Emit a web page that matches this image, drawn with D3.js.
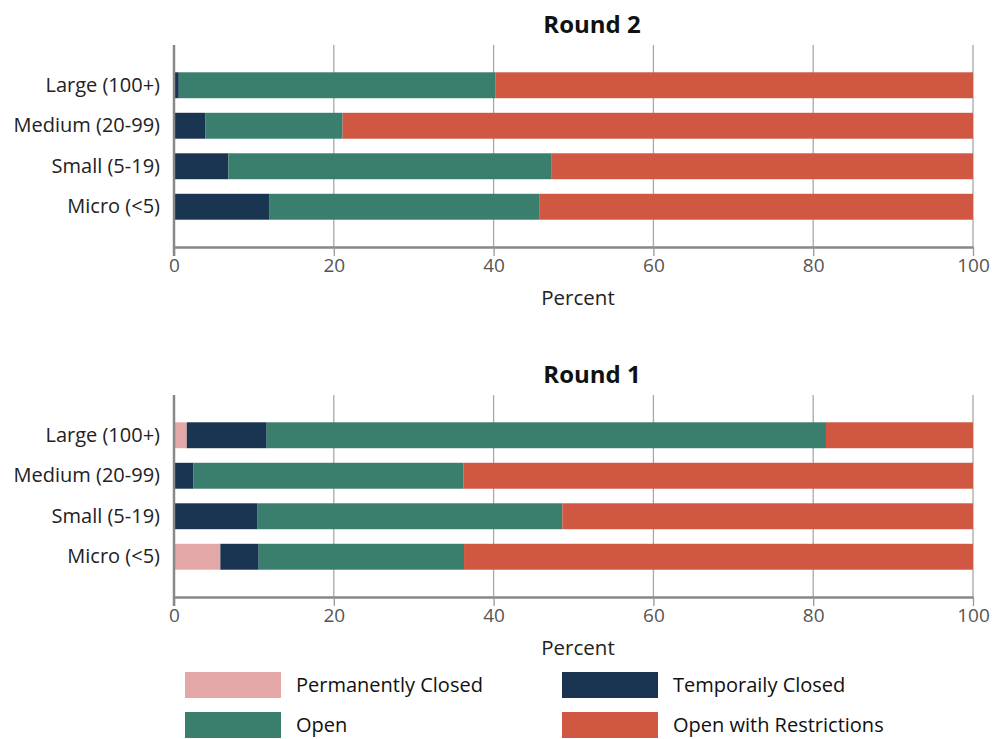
<!DOCTYPE html>
<html><head><meta charset="utf-8">
<script src="https://cdn.jsdelivr.net/npm/d3@7"></script>
<style>body{margin:0;background:#fff}svg{display:block}text{font-family:"Open Sans",sans-serif}</style>
</head><body><svg id="c" width="992" height="739"></svg>
<script>
const categories = ["Large (100+)", "Medium (20-99)", "Small (5-19)", "Micro (<5)"];
const seriesNames = ["Permanently Closed", "Temporaily Closed", "Open", "Open with Restrictions"];
const seriesColors = ["#e3a7a8", "#1a3552", "#3a7e6e", "#d05842"];
// Round 2 values (percent)
const r2Perm = [0, 0, 0, 0];
const r2Temp = [0.6, 3.9, 6.8, 11.9];
const r2Open = [39.6, 17.2, 40.4, 33.8];
const r2Restr = [59.8, 78.9, 52.8, 54.3];
// Round 1 values (percent)
const r1Perm = [1.6, 0, 0, 5.8];
const r1Temp = [10.0, 2.4, 10.4, 4.8];
const r1Open = [70.0, 33.8, 38.2, 25.7];
const r1Restr = [18.4, 63.8, 51.4, 63.7];
const xTicks = [0, 20, 40, 60, 80, 100];

const svg = d3.select("#c");
const x = d3.scaleLinear().domain([0, 100]).range([174, 973]);

function panel(title, series, top) {
  const g = svg.append("g");
  const plotTop = top, axisY = top + 202;
  const y = d3.scaleBand().domain(categories).range([top + 20, top + 182]).paddingInner(0.36).paddingOuter(0.18);
  g.append("text").attr("x", 592).attr("y", top - 12).attr("text-anchor", "middle")
    .attr("font-size", 24).attr("font-weight", "bold").attr("fill", "#111").text(title);
  // gridlines
  g.append("g").selectAll("line").data(xTicks.slice(1)).join("line")
    .attr("x1", d => x(d)).attr("x2", d => x(d)).attr("y1", plotTop).attr("y2", axisY)
    .attr("stroke", "#a8a8a8").attr("stroke-width", 1.3);
  // stacked bars
  const rows = categories.map((c, i) => { const o = {cat: c}; seriesNames.forEach((s, k) => o[s] = series[k][i]); return o; });
  const stack = d3.stack().keys(seriesNames)(rows);
  stack.forEach((layer, k) => {
    g.append("g").selectAll("rect").data(layer).join("rect")
      .attr("x", d => x(d[0])).attr("width", d => Math.max(0, x(d[1]) - x(d[0])))
      .attr("y", d => y(d.data.cat)).attr("height", y.bandwidth())
      .attr("fill", seriesColors[k]);
  });
  // x axis
  const ax = g.append("g").attr("transform", `translate(0,${axisY})`)
    .call(d3.axisBottom(x).tickValues(xTicks).tickSize(9).tickSizeOuter(0).tickPadding(3));
  ax.select(".domain").attr("stroke", "#888").attr("stroke-width", 2.5);
  ax.selectAll(".tick line").attr("stroke", "#999").attr("stroke-width", 1.3);
  ax.selectAll(".tick text").attr("font-size", 19).attr("fill", "#555").attr("font-family", "Open Sans");
  // y axis
  const ay = g.append("g").attr("transform", `translate(${x(0)},0)`)
    .call(d3.axisLeft(y).tickSize(0).tickPadding(14));
  ay.select(".domain").remove();
  g.append("line").attr("x1", x(0)).attr("x2", x(0)).attr("y1", plotTop).attr("y2", axisY + 9)
    .attr("stroke", "#888").attr("stroke-width", 2.5);
  ay.selectAll(".tick text").attr("font-size", 20).attr("fill", "#222").attr("font-family", "Open Sans");
  g.append("text").attr("x", 578).attr("y", axisY + 58).attr("text-anchor", "middle")
    .attr("font-size", 20.5).attr("fill", "#222").text("Percent");
}
panel("Round 2", [r2Perm, r2Temp, r2Open, r2Restr], 45);
panel("Round 1", [r1Perm, r1Temp, r1Open, r1Restr], 395);

// legend
const lg = svg.append("g");
const legPos = [[185, 672], [562, 672], [185, 712], [562, 712]];
const legOrder = [0, 1, 2, 3];
legOrder.forEach((k, i) => {
  const [lx, ly] = legPos[i];
  lg.append("rect").attr("x", lx).attr("y", ly).attr("width", 96).attr("height", 26).attr("fill", seriesColors[k]);
  lg.append("text").attr("x", lx + 111).attr("y", ly + 20).attr("font-size", 20).attr("fill", "#111").text(seriesNames[k]);
});
</script></body></html>
